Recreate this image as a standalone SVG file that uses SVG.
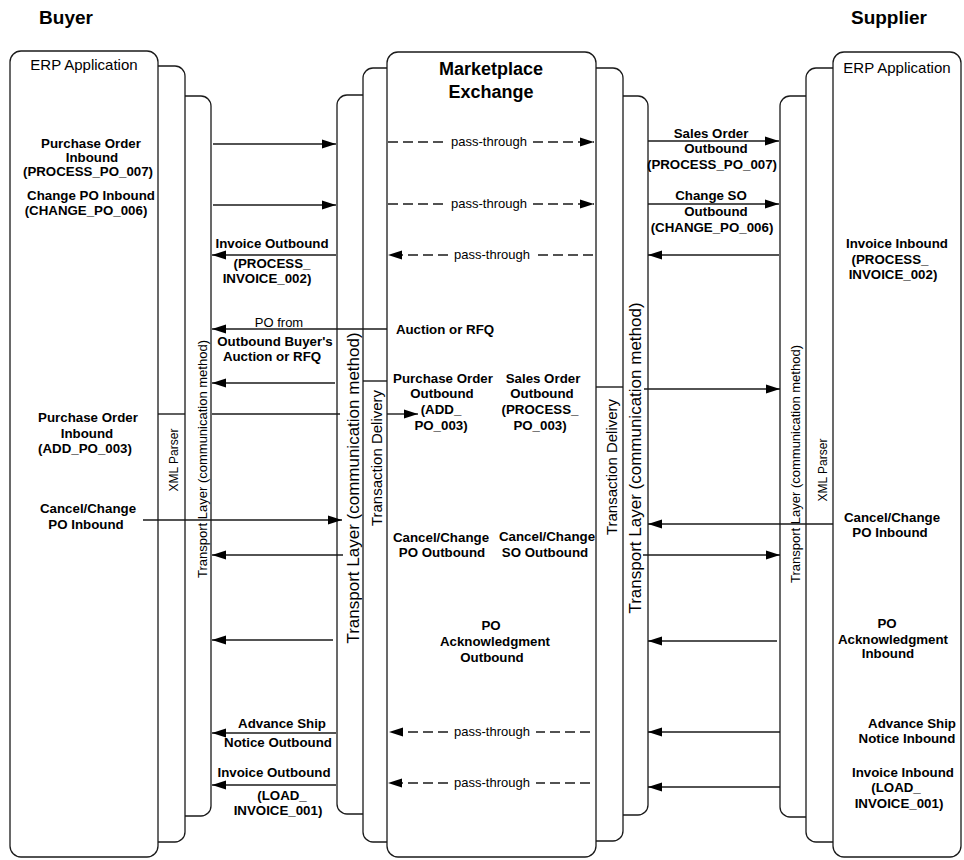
<svg xmlns="http://www.w3.org/2000/svg" width="964" height="860" viewBox="0 0 964 860">
<style>
.box{fill:#fff;stroke:#1a1a1a;stroke-width:1.3}
.ln{stroke:#1a1a1a;stroke-width:1.4;fill:none}
.dash{stroke-dasharray:10 5}
.b{font-family:"Liberation Sans",Arial,sans-serif;font-size:13.3px;font-weight:bold;text-anchor:middle;fill:#000}
.r{font-family:"Liberation Sans",Arial,sans-serif;font-size:13px;text-anchor:middle;fill:#000}
.hd{font-family:"Liberation Sans",Arial,sans-serif;font-size:19px;font-weight:bold;text-anchor:middle;fill:#000}
.erp{font-family:"Liberation Sans",Arial,sans-serif;font-size:15px;text-anchor:middle;fill:#000}
.v12{font-family:"Liberation Sans",Arial,sans-serif;font-size:12px;text-anchor:middle;fill:#000}
.v13{font-family:"Liberation Sans",Arial,sans-serif;font-size:13px;text-anchor:middle;fill:#000}
.v15{font-family:"Liberation Sans",Arial,sans-serif;font-size:15px;text-anchor:middle;fill:#000}
.v17{font-family:"Liberation Sans",Arial,sans-serif;font-size:17px;text-anchor:middle;fill:#000}
</style>
<defs>
<marker id="ah" viewBox="0 0 14 10" refX="14" refY="5" markerWidth="14" markerHeight="10" markerUnits="userSpaceOnUse" orient="auto">
<path d="M0,0.5 L14,5 L0,9.5 z" fill="#000"/>
</marker>
</defs>
<rect width="964" height="860" fill="#fff"/>

<g id="headers">
<text class="hd" x="66" y="24">Buyer</text>
<text class="hd" x="889" y="24">Supplier</text>
</g>

<!-- Buyer side -->
<g id="buyer-transport">
<rect class="box" x="140" y="96" width="71" height="720" rx="10"/>
<text class="v13" transform="translate(207,459) rotate(-90)">Transport Layer (communication method)</text>
</g>
<g id="buyer-xml">
<rect class="box" x="130" y="66" width="55" height="776" rx="10"/>
<line class="ln" x1="158" y1="414" x2="185" y2="414"/>
<text class="v12" transform="translate(178,460) rotate(-90)">XML Parser</text>
</g>
<g id="buyer-erp">
<rect class="box" x="10" y="51" width="148" height="806" rx="11"/>
<text class="erp" x="84" y="70">ERP Application</text>
</g>

<!-- Marketplace -->
<g id="mkt-transport-left">
<rect class="box" x="337" y="95" width="80" height="719" rx="10"/>
<text class="v17" transform="translate(359,488) rotate(-90)">Transport Layer (communication method)</text>
</g>
<g id="mkt-td-left">
<rect class="box" x="363" y="68" width="60" height="774" rx="10"/>
<line class="ln" x1="363" y1="381" x2="387" y2="381"/>
<text class="v15" transform="translate(382,458) rotate(-90)">Transaction Delivery</text>
</g>
<g id="mkt-transport-right">
<rect class="box" x="568" y="96" width="80" height="719" rx="10"/>
<text class="v17" transform="translate(641,458) rotate(-90)">Transport Layer (communication method)</text>
</g>
<g id="mkt-td-right">
<rect class="box" x="560" y="68" width="63" height="773" rx="10"/>
<line class="ln" x1="596" y1="387" x2="623" y2="387"/>
<text class="v15" transform="translate(617,467) rotate(-90)">Transaction Delivery</text>
</g>
<g id="marketplace">
<rect class="box" x="387" y="52" width="209" height="805" rx="11"/>
<text class="b" style="font-size:18px" x="491" y="75">Marketplace</text>
<text class="b" style="font-size:18px" x="491" y="98">Exchange</text>
</g>

<!-- Supplier side -->
<g id="sup-transport">
<rect class="box" x="780" y="96" width="80" height="721" rx="10"/>
<text class="v13" transform="translate(800,464) rotate(-90)">Transport Layer (communication method)</text>
</g>
<g id="sup-xml">
<rect class="box" x="806" y="68" width="60" height="774" rx="10"/>
<text class="v12" transform="translate(827,470) rotate(-90)">XML Parser</text>
</g>
<g id="sup-erp">
<rect class="box" x="833" y="52" width="128" height="805" rx="11"/>
<text class="erp" x="897" y="73">ERP Application</text>
</g>

<!-- Connectors -->
<g id="connectors">
<line class="ln" x1="213" y1="144" x2="336" y2="144" marker-end="url(#ah)"/>
<line class="ln" x1="213" y1="205" x2="336" y2="205" marker-end="url(#ah)"/>
<line class="ln" x1="336" y1="255" x2="212" y2="255" marker-end="url(#ah)"/>
<line class="ln" x1="387" y1="329" x2="212" y2="329" marker-end="url(#ah)"/>
<line class="ln" x1="335" y1="383" x2="212" y2="383" marker-end="url(#ah)"/>
<line class="ln" x1="212" y1="414" x2="340" y2="414"/>
<line class="ln" x1="387" y1="414" x2="418" y2="414" marker-end="url(#ah)"/>
<line class="ln" x1="143" y1="520" x2="342" y2="520" marker-end="url(#ah)"/>
<line class="ln" x1="343" y1="555" x2="212" y2="555" marker-end="url(#ah)"/>
<line class="ln" x1="333" y1="640" x2="212" y2="640" marker-end="url(#ah)"/>
<line class="ln" x1="336" y1="733" x2="212" y2="733" marker-end="url(#ah)"/>
<line class="ln" x1="336" y1="785" x2="212" y2="785" marker-end="url(#ah)"/>

<line class="ln" x1="648" y1="141" x2="779" y2="141" marker-end="url(#ah)"/>
<line class="ln" x1="648" y1="204" x2="779" y2="204" marker-end="url(#ah)"/>
<line class="ln" x1="779" y1="255" x2="648" y2="255" marker-end="url(#ah)"/>
<line class="ln" x1="644" y1="389" x2="780" y2="389" marker-end="url(#ah)"/>
<line class="ln" x1="833" y1="524" x2="648" y2="524" marker-end="url(#ah)"/>
<line class="ln" x1="643" y1="555" x2="780" y2="555" marker-end="url(#ah)"/>
<line class="ln" x1="777" y1="641" x2="648" y2="641" marker-end="url(#ah)"/>
<line class="ln" x1="780" y1="732" x2="648" y2="732" marker-end="url(#ah)"/>
<line class="ln" x1="780" y1="787" x2="648" y2="787" marker-end="url(#ah)"/>

<!-- pass-through -->
<line class="ln dash" x1="388" y1="142" x2="446" y2="142"/>
<line class="ln dash" x1="533" y1="142" x2="594" y2="142" marker-end="url(#ah)"/>
<text class="r" x="489" y="146">pass-through</text>
<line class="ln dash" x1="388" y1="204" x2="446" y2="204"/>
<line class="ln dash" x1="533" y1="204" x2="594" y2="204" marker-end="url(#ah)"/>
<text class="r" x="489" y="208">pass-through</text>
<line class="ln dash" x1="448" y1="255" x2="388" y2="255" marker-end="url(#ah)"/>
<line class="ln dash" x1="593" y1="255" x2="536" y2="255"/>
<text class="r" x="492" y="259">pass-through</text>
<line class="ln dash" x1="448" y1="732" x2="389" y2="732" marker-end="url(#ah)"/>
<line class="ln dash" x1="590" y1="732" x2="536" y2="732"/>
<text class="r" x="492" y="736">pass-through</text>
<line class="ln dash" x1="448" y1="783" x2="388" y2="783" marker-end="url(#ah)"/>
<line class="ln dash" x1="590" y1="783" x2="536" y2="783"/>
<text class="r" x="492" y="787">pass-through</text>
</g>

<!-- Message labels -->
<g id="labels">
<text class="b" x="91" y="148">Purchase Order</text>
<text class="b" x="92" y="162">Inbound</text>
<text class="b" x="88" y="176">(PROCESS_PO_007)</text>
<text class="b" x="91" y="200">Change PO Inbound</text>
<text class="b" x="86" y="215">(CHANGE_PO_006)</text>
<text class="b" x="88" y="422">Purchase Order</text>
<text class="b" x="87" y="438">Inbound</text>
<text class="b" x="85" y="453">(ADD_PO_003)</text>
<text class="b" x="88" y="513">Cancel/Change</text>
<text class="b" x="86" y="529">PO Inbound</text>

<text class="b" x="272" y="248">Invoice Outbound</text>
<text class="b" x="272" y="268">(PROCESS_</text>
<text class="b" x="267" y="283">INVOICE_002)</text>
<text class="r" x="279" y="327">PO from</text>
<text class="b" x="275" y="346">Outbound Buyer's</text>
<text class="b" x="272" y="361">Auction or RFQ</text>
<text class="b" x="282" y="728">Advance Ship</text>
<text class="b" x="278" y="747">Notice Outbound</text>
<text class="b" x="274" y="777">Invoice Outbound</text>
<text class="b" x="282" y="800">(LOAD_</text>
<text class="b" x="278" y="815">INVOICE_001)</text>

<text class="b" x="445" y="334">Auction or RFQ</text>
<text class="b" x="443" y="383">Purchase Order</text>
<text class="b" x="442" y="398">Outbound</text>
<text class="b" x="441" y="414">(ADD_</text>
<text class="b" x="441" y="430">PO_003)</text>
<text class="b" x="543" y="383">Sales Order</text>
<text class="b" x="542" y="398">Outbound</text>
<text class="b" x="540" y="414">(PROCESS_</text>
<text class="b" x="540" y="430">PO_003)</text>
<text class="b" x="441" y="542">Cancel/Change</text>
<text class="b" x="442" y="557">PO Outbound</text>
<text class="b" x="547" y="541">Cancel/Change</text>
<text class="b" x="545" y="557">SO Outbound</text>
<text class="b" x="491" y="630">PO</text>
<text class="b" x="495" y="646">Acknowledgment</text>
<text class="b" x="492" y="662">Outbound</text>

<text class="b" x="711" y="138">Sales Order</text>
<text class="b" x="716" y="153">Outbound</text>
<text class="b" x="712" y="169">(PROCESS_PO_007)</text>
<text class="b" x="711" y="200">Change SO</text>
<text class="b" x="716" y="216">Outbound</text>
<text class="b" x="712" y="232">(CHANGE_PO_006)</text>

<text class="b" x="897" y="248">Invoice Inbound</text>
<text class="b" x="890" y="264">(PROCESS_</text>
<text class="b" x="893" y="279">INVOICE_002)</text>
<text class="b" x="892" y="522">Cancel/Change</text>
<text class="b" x="890" y="537">PO Inbound</text>
<text class="b" x="887" y="628">PO</text>
<text class="b" x="893" y="644">Acknowledgment</text>
<text class="b" x="888" y="658">Inbound</text>
<text class="b" x="912" y="728">Advance Ship</text>
<text class="b" x="907" y="743">Notice Inbound</text>
<text class="b" x="903" y="777">Invoice Inbound</text>
<text class="b" x="896" y="792">(LOAD_</text>
<text class="b" x="899" y="808">INVOICE_001)</text>
</g>
</svg>
